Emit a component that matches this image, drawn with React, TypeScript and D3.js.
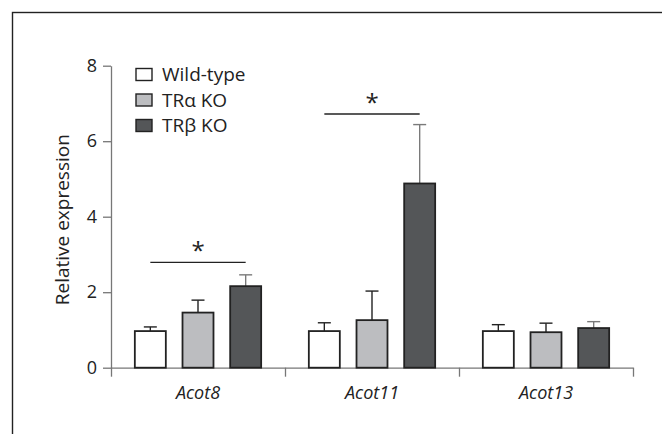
import React, { useEffect, useRef } from 'react';
import * as d3 from 'd3';

const categories = ['Acot8', 'Acot11', 'Acot13'];
const groups = ['Wild-type', 'TRα KO', 'TRβ KO'];
const wildType = [0.97, 0.97, 0.97];
const wildTypeErr = [0.11, 0.22, 0.17];
const traKO = [1.46, 1.26, 0.94];
const traKOErr = [0.33, 0.77, 0.24];
const trbKO = [2.16, 4.88, 1.05];
const trbKOErr = [0.3, 1.56, 0.17];
const yTicks = [0, 2, 4, 6, 8];
// significance brackets: category, height (in y units), wild-type -> TRβ KO
const sigCategories = ['Acot8', 'Acot11'];
const sigLevels = [2.79, 6.72];

const colors = ['#ffffff', '#bcbdc0', '#545658'];
const errColors = ['#222', '#222', '#7a7a7a'];
const FONT = '"Open Sans", "Noto Sans", sans-serif';

const App = () => {
  const ref = useRef<SVGSVGElement | null>(null);

  useEffect(() => {
    const svg = d3.select(ref.current);
    svg.selectAll('*').remove();

    const left = 111;
    const right = 633;
    const top = 65.7;
    const bottom = 367.7;

    const x0 = d3.scaleBand().domain(categories).range([left, right]).padding(0);
    const x1 = d3
      .scaleBand()
      .domain(groups)
      .range([0, x0.bandwidth()])
      .paddingInner(0.35)
      .paddingOuter(0.5);
    const y = d3.scaleLinear().domain([0, 8]).range([bottom, top]);

    const values = [wildType, traKO, trbKO];
    const errs = [wildTypeErr, traKOErr, trbKOErr];

    // frame
    svg
      .append('rect')
      .attr('x', 12.5)
      .attr('y', 12.5)
      .attr('width', 800)
      .attr('height', 600)
      .attr('fill', 'none')
      .attr('stroke', '#222')
      .attr('stroke-width', 1.4);

    // y axis
    const yAxis = d3.axisLeft(y).tickValues(yTicks).tickSize(8).tickSizeOuter(0).tickPadding(6);
    const gy = svg.append('g').attr('transform', `translate(${left},0)`).call(yAxis);
    gy.selectAll('path, line').attr('stroke', '#777').attr('stroke-width', 1.3);
    gy.selectAll('text')
      .attr('fill', '#222')
      .style('font-family', FONT)
      .style('font-size', '18px');

    // x axis (ticks at band edges)
    const xEdges = d3.scaleLinear().domain([0, categories.length]).range([left, right]);
    const xAxis = d3
      .axisBottom(xEdges)
      .tickValues(d3.range(categories.length + 1))
      .tickSize(9)
      .tickSizeOuter(0)
      .tickFormat(() => '');
    const gx = svg.append('g').attr('transform', `translate(0,${bottom})`).call(xAxis);
    gx.selectAll('path, line').attr('stroke', '#777').attr('stroke-width', 1.3);

    // category labels
    svg
      .selectAll('.cat')
      .data(categories)
      .enter()
      .append('text')
      .attr('x', (d) => (x0(d) as number) + x0.bandwidth() / 2)
      .attr('y', bottom + 31)
      .attr('text-anchor', 'middle')
      .style('font-family', FONT)
      .style('font-style', 'italic')
      .style('font-size', '18px')
      .attr('fill', '#222')
      .text((d) => d);

    // error bars + bars
    groups.forEach((g, gi) => {
      const gSel = svg.append('g');
      categories.forEach((c, ci) => {
        const cx = (x0(c) as number) + (x1(g) as number) + x1.bandwidth() / 2;
        const v = values[gi][ci];
        const e = errs[gi][ci];
        gSel
          .append('line')
          .attr('x1', cx)
          .attr('x2', cx)
          .attr('y1', y(v))
          .attr('y2', y(v + e))
          .attr('stroke', errColors[gi])
          .attr('stroke-width', 1.4);
        gSel
          .append('line')
          .attr('x1', cx - 6.5)
          .attr('x2', cx + 6.5)
          .attr('y1', y(v + e))
          .attr('y2', y(v + e))
          .attr('stroke', errColors[gi])
          .attr('stroke-width', 1.4);
        gSel
          .append('rect')
          .attr('x', (x0(c) as number) + (x1(g) as number))
          .attr('y', y(v))
          .attr('width', x1.bandwidth())
          .attr('height', y(0) - y(v))
          .attr('fill', colors[gi])
          .attr('stroke', '#222')
          .attr('stroke-width', 1.8);
      });
    });

    // significance
    sigCategories.forEach((c, i) => {
      const xa = (x0(c) as number) + (x1(groups[0]) as number) + x1.bandwidth() / 2;
      const xb = (x0(c) as number) + (x1(groups[2]) as number) + x1.bandwidth() / 2;
      svg
        .append('line')
        .attr('x1', xa)
        .attr('x2', xb)
        .attr('y1', y(sigLevels[i]))
        .attr('y2', y(sigLevels[i]))
        .attr('stroke', '#222')
        .attr('stroke-width', 1.3);
      svg
        .append('text')
        .attr('x', (xa + xb) / 2)
        .attr('y', y(sigLevels[i]) - 3)
        .attr('text-anchor', 'middle')
        .style('font-family', FONT)
        .style('font-size', '24px')
        .attr('fill', '#222')
        .text('*');
    });

    // y label
    svg
      .append('text')
      .attr('transform', `translate(69,${(top + bottom) / 2 + 3}) rotate(-90)`)
      .attr('text-anchor', 'middle')
      .style('font-family', FONT)
      .style('font-size', '19px')
      .attr('fill', '#222')
      .text('Relative expression');

    // legend
    const legend = svg.append('g').attr('transform', 'translate(136,74.5)');
    groups.forEach((g, i) => {
      const row = legend.append('g').attr('transform', `translate(0,${i * 25.5})`);
      row
        .append('rect')
        .attr('x', 0)
        .attr('y', -6)
        .attr('width', 16)
        .attr('height', 12)
        .attr('fill', colors[i])
        .attr('stroke', '#222')
        .attr('stroke-width', 1.4);
      row
        .append('text')
        .attr('x', 26)
        .attr('y', 6.5)
        .style('font-family', FONT)
        .style('font-size', '19px')
        .attr('fill', '#222')
        .text(g);
    });
  }, []);

  return (
    <svg
      ref={ref}
      width={662}
      height={434}
      style={{ position: 'absolute', left: 0, top: 0, background: '#fff' }}
    />
  );
};

export default App;
